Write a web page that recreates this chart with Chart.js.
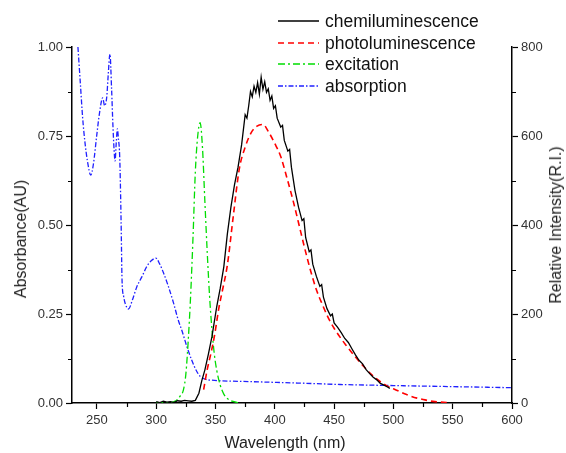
<!DOCTYPE html>
<html>
<head>
<meta charset="utf-8">
<script src="https://cdn.jsdelivr.net/npm/chart.js@4.4.1/dist/chart.umd.min.js"></script>
<style>
  html, body { margin: 0; padding: 0; background: #fff; }
  #wrap { position: relative; width: 566px; height: 453px; overflow: hidden; font-family: "Liberation Sans", Arial, sans-serif; }
  #c { position: absolute; left: 0; top: 0; }
  .ttl { position: absolute; white-space: nowrap; font-size: 16px; color: #222; line-height: 16px; }
  .leg { position: absolute; height: 20px; line-height: 20px; font-size: 17.5px; color: #111; white-space: nowrap; }
  .leg svg { position: absolute; left: 0; top: 8px; }
  .leg span { position: absolute; left: 47px; top: 0; }
</style>
</head>
<body>
<div id="wrap">
  <canvas id="c" width="566" height="453"></canvas>
  <div class="ttl" id="xt" style="left:285px;top:443px;transform:translate(-50%,-50%);">Wavelength (nm)</div>
  <div class="ttl" id="ylt" style="left:21px;top:239px;transform:translate(-50%,-50%) rotate(-90deg);">Absorbance(AU)</div>
  <div class="ttl" id="yrt" style="left:556px;top:225px;transform:translate(-50%,-50%) rotate(-90deg);">Relative Intensity(R.I.)</div>
  <div id="legend"></div>
</div>
<script>
// ---- data ----
const wavelengthTicks = [250, 300, 350, 400, 450, 500, 550, 600];
const absorbanceTicks = [0, 0.25, 0.5, 0.75, 1.0];
const intensityTicks = [0, 200, 400, 600, 800];

const seriesNames = ["chemiluminescence", "photoluminescence", "excitation", "absorption"];

const chemWl = [300,303,306,309,312,315,318,321,324,327,330,333,336,338.5,341,344,347,351,354,357,360,363,366,369,372,375,376.5,378,379.5,381,382.5,384,385.5,387,388.5,390,391.5,393,394.5,396,397.5,399,400.5,402,405,406.5,408,411,412.5,414,417,420,423,424.5,426,429,430.5,432,435,438,439.5,441,444,447,448.5,450,453,456,459,462,465,468,471,474,477,480,483,486,489,492,495,497];
const chemVal = [3,1,4,2,3,1,5,4,6,5,4,6,22,51,74,110,149,216,258,306,380,440,490,530,580,648,640,668,700,688,712,698,720,694,732,705,722,698,706,680,690,662,668,640,620,624,590,566,570,530,478,440,410,414,372,340,344,312,285,262,266,238,212,196,200,180,170,158,145,136,122,108,96,88,75,66,58,52,44,40,36,33];

const photoWl = [340,343,346,349,353,356,360,365,370,375,380,385,390,395,400,405,410,415,420,425,430,435,440,445,450,455,460,465,470,475,480,485,490,495,500,505,510,515,520,525,530,535,540,545];
const photoVal = [30,75,110,149,216,255,310,420,525,575,607,622,626,608,583,554,508,459,405,350,299,255,222,192,168,148,130,113,97,82,68,56,46,38,32,26,20,15,11,8,5,3,2,1];

const excWl = [300,305,310,315,318,320,323,325,327,329,331,333,335,337,339,341,343,345,347,349,351,354,357,360,364,370];
const excVal = [0,1,1,3,8,15,30,65,140,240,370,520,600,630,575,455,340,240,165,110,74,40,20,10,4,0];

const absWl = [234,236,238,240,242,244.8,247,249.8,252,254.9,256.5,258.3,259.5,261,262.4,263.5,264.5,265.3,266.3,267.3,268.2,269,269.5,270.4,271.2,272.5,273.8,276.6,280,283.6,288,292,296,299.7,303,306.2,310,314.7,318.4,322,325.9,330,334,337,342,347,380,420,455,500,550,600];
const absVal = [1.00,0.90,0.80,0.73,0.68,0.64,0.67,0.75,0.81,0.857,0.835,0.86,0.92,0.98,0.88,0.78,0.71,0.68,0.73,0.77,0.74,0.71,0.66,0.51,0.345,0.30,0.28,0.264,0.29,0.326,0.355,0.383,0.40,0.407,0.39,0.365,0.33,0.28,0.235,0.20,0.158,0.12,0.09,0.075,0.066,0.064,0.060,0.056,0.052,0.049,0.046,0.043];

// ---- build ----
const pts = (xs, ys) => xs.map((x, i) => ({ x: x, y: ys[i] }));
const styles = [
  { color: '#000000', dash: [], width: 1.3, axis: 'y2', tension: 0 },
  { color: '#ff0000', dash: [6, 4], width: 1.6, axis: 'y2', tension: 0.4 },
  { color: '#00dd00', dash: [7, 3, 2, 3], width: 1.3, axis: 'y2', tension: 0.4 },
  { color: '#2020ff', dash: [5, 2, 1.5, 2], width: 1.3, axis: 'y', tension: 0.4 }
];
const series = [pts(chemWl, chemVal), pts(photoWl, photoVal), pts(excWl, excVal), pts(absWl, absVal)];

const datasets = series.map((d, i) => ({
  label: seriesNames[i],
  data: d,
  borderColor: styles[i].color,
  borderDash: styles[i].dash,
  borderWidth: styles[i].width,
  yAxisID: styles[i].axis,
  pointRadius: 0,
  fill: false,
  tension: styles[i].tension,
  cubicInterpolationMode: styles[i].tension ? 'monotone' : 'default'
}));

const minorTicks = {
  id: 'minorTicks',
  afterDraw(chart) {
    const ctx = chart.ctx;
    const xs = chart.scales.x, yl = chart.scales.y, yr = chart.scales.y2;
    ctx.save();
    ctx.strokeStyle = '#000';
    ctx.lineWidth = 1.2;
    ctx.beginPath();
    for (let i = 0; i < wavelengthTicks.length; i++) {
      const v = wavelengthTicks[i] - 25;
      if (v < xs.min) continue;
      const px = Math.round(xs.getPixelForValue(v)) + 0.5;
      ctx.moveTo(px, xs.top); ctx.lineTo(px, xs.top + 4);
    }
    for (let i = 0; i < absorbanceTicks.length - 1; i++) {
      const v = (absorbanceTicks[i] + absorbanceTicks[i + 1]) / 2;
      const py = Math.round(yl.getPixelForValue(v)) + 0.5;
      ctx.moveTo(yl.right, py); ctx.lineTo(yl.right - 4, py);
    }
    for (let i = 0; i < intensityTicks.length - 1; i++) {
      const v = (intensityTicks[i] + intensityTicks[i + 1]) / 2;
      const py = Math.round(yr.getPixelForValue(v)) + 0.5;
      ctx.moveTo(yr.left, py); ctx.lineTo(yr.left + 4, py);
    }
    ctx.stroke();
    ctx.restore();
  }
};

const tickFont = { family: '"Liberation Sans", Arial, sans-serif', size: 13 };
const axisGrid = { display: true, drawOnChartArea: false, drawTicks: true, tickLength: 6, color: '#000', tickWidth: 1.2 };
const axisBorder = { display: true, color: '#000', width: 1.5 };

new Chart(document.getElementById('c'), {
  type: 'line',
  data: { datasets: datasets },
  options: {
    responsive: false,
    animation: false,
    layout: { padding: { top: 47, left: 0, right: 0, bottom: 0 } },
    plugins: { legend: { display: false }, tooltip: { enabled: false } },
    scales: {
      x: {
        type: 'linear', min: 229, max: 600,
        afterBuildTicks: s => { s.ticks = wavelengthTicks.map(v => ({ value: v })); },
        afterFit: s => { s.height = 50; },
        grid: axisGrid, border: axisBorder,
        ticks: { font: tickFont, color: '#333', padding: 4, maxRotation: 0, autoSkip: false, callback: v => String(v) }
      },
      y: {
        type: 'linear', position: 'left', min: 0, max: 1,
        afterBuildTicks: s => { s.ticks = absorbanceTicks.map(v => ({ value: v })); },
        afterFit: s => { s.width = 72; },
        grid: axisGrid, border: axisBorder,
        ticks: { font: tickFont, color: '#333', padding: 3, callback: v => Number(v).toFixed(2) }
      },
      y2: {
        type: 'linear', position: 'right', min: 0, max: 800,
        afterBuildTicks: s => { s.ticks = intensityTicks.map(v => ({ value: v })); },
        afterFit: s => { s.width = 54; },
        grid: axisGrid, border: axisBorder,
        ticks: { font: tickFont, color: '#333', padding: 3, callback: v => String(v) }
      }
    }
  },
  plugins: [minorTicks]
});

// ---- HTML legend ----
const legendEl = document.getElementById('legend');
const legendTops = [11, 33, 54, 76];
datasets.forEach((ds, i) => {
  const row = document.createElement('div');
  row.className = 'leg';
  row.style.left = '278px';
  row.style.top = legendTops[i] + 'px';
  const dash = ds.borderDash.length ? ds.borderDash.join(',') : 'none';
  row.innerHTML = '<svg width="42" height="4"><line x1="0" y1="2" x2="41" y2="2" stroke="' + ds.borderColor +
    '" stroke-width="' + ds.borderWidth + '" stroke-dasharray="' + dash + '"/></svg><span></span>';
  row.querySelector('span').textContent = ds.label;
  legendEl.appendChild(row);
});
</script>
</body>
</html>
